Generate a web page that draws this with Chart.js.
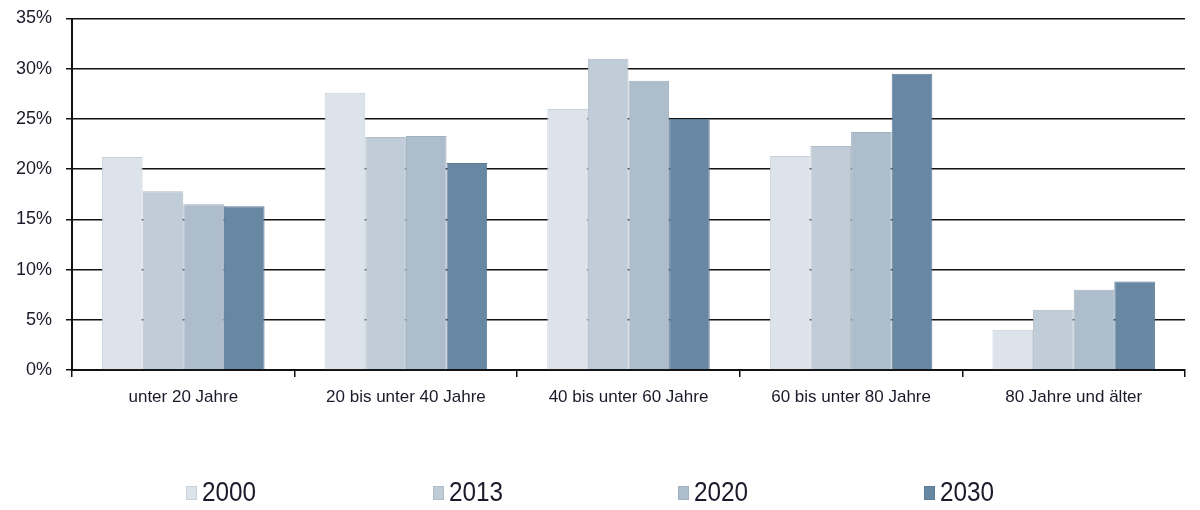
<!DOCTYPE html>
<html>
<head>
<meta charset="utf-8">
<script src="https://cdn.jsdelivr.net/npm/chart.js@4"></script>
<style>
  html, body { margin: 0; padding: 0; background: #fff; }
  #wrap { width: 1200px; height: 510px; }
</style>
</head>
<body>
<div id="wrap"><canvas id="ageChart" width="1200" height="510"></canvas></div>
<script>
const ageGroups = ['unter 20 Jahre', '20 bis unter 40 Jahre', '40 bis unter 60 Jahre', '60 bis unter 80 Jahre', '80 Jahre und älter'];
const years = ['2000', '2013', '2020', '2030'];
const share2000 = [21.2, 27.6, 26.0, 21.3, 4.0];
const share2013 = [17.8, 23.2, 31.0, 22.3, 6.0];
const share2020 = [16.5, 23.3, 28.8, 23.7, 8.0];
const share2030 = [16.3, 20.6, 25.0, 29.5, 8.8];
const yTicks = [0, 5, 10, 15, 20, 25, 30, 35];

const fills = ['#dce3ea', '#c0ccd7', '#adbdcb', '#6787a3'];
const edges = ['#c9d1d9', '#b0bcc8', '#9fb0bf', '#5d7c98'];
const shares = [share2000, share2013, share2020, share2030];

// legend row under the chart, spread evenly like the printed original
const bottomLegend = {
    id: 'bottomLegend',
    afterDraw(chart) {
        const ctx = chart.ctx;
        const starts = [186, 433, 678, 924];
        ctx.save();
        chart.data.datasets.forEach((ds, i) => {
            const x = starts[i];
            const y = 493;
            ctx.fillStyle = ds.backgroundColor;
            ctx.strokeStyle = ds.borderColor;
            ctx.lineWidth = 1;
            ctx.fillRect(x, y - 7, 11, 14);
            ctx.strokeRect(x + 0.5, y - 6.5, 10, 13);
            ctx.save();
            ctx.translate(x + 16, y);
            ctx.scale(0.9, 1);
            ctx.fillStyle = '#1a1a2a';
            ctx.font = '27px "Liberation Sans", Arial, sans-serif';
            ctx.textBaseline = 'middle';
            ctx.fillText(ds.label, 0, 1);
            ctx.restore();
        });
        ctx.restore();
    }
};

new Chart(document.getElementById('ageChart').getContext('2d'), {
    type: 'bar',
    data: {
        labels: ageGroups,
        datasets: years.map((y, i) => ({
            label: y,
            data: shares[i],
            backgroundColor: fills[i],
            borderColor: edges[i],
            borderWidth: 1,
            categoryPercentage: 0.73,
            barPercentage: 1.0
        }))
    },
    options: {
        responsive: false,
        animation: false,
        layout: { padding: { left: 0, right: 15, top: 18, bottom: 0 } },
        plugins: {
            legend: { display: false },
            tooltip: { enabled: false }
        },
        scales: {
            x: {
                offset: true,
                grid: {
                    offset: true,
                    drawOnChartArea: false,
                    drawTicks: true,
                    tickLength: 7,
                    color: '#111',
                    lineWidth: 1.5
                },
                border: { display: true, color: '#111', width: 2 },
                ticks: {
                    color: '#1a1a2a',
                    padding: 10,
                    maxRotation: 0,
                    font: { family: '"Liberation Sans", Arial, sans-serif', size: 17 }
                },
                afterFit(scale) { scale.height = 140; }
            },
            y: {
                min: 0,
                max: 35,
                afterBuildTicks(scale) { scale.ticks = yTicks.map(v => ({ value: v })); },
                grid: {
                    color: '#111',
                    lineWidth: 1.5,
                    drawTicks: true,
                    tickLength: 6
                },
                border: { display: true, color: '#111', width: 2 },
                ticks: {
                    color: '#1a1a2a',
                    padding: 14,
                    callback: v => v + '%',
                    font: { family: '"Liberation Sans", Arial, sans-serif', size: 18, lineHeight: 0.5 }
                },
                afterFit(scale) { scale.width = 72; }
            }
        }
    },
    plugins: [bottomLegend]
});
</script>
</body>
</html>
